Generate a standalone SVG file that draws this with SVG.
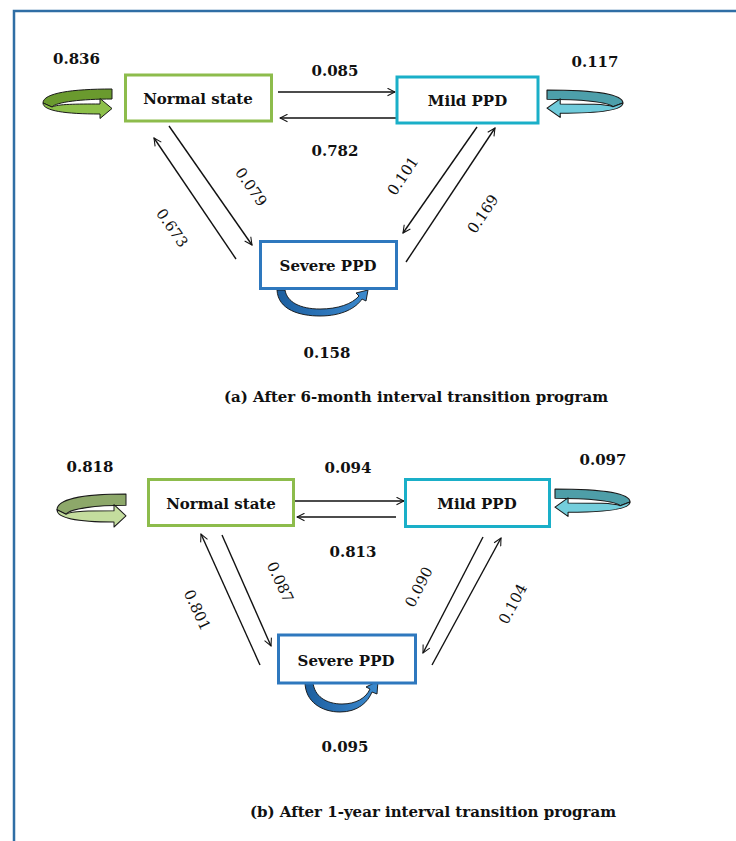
<svg xmlns="http://www.w3.org/2000/svg" xmlns:xlink="http://www.w3.org/1999/xlink" width="736" height="841" viewBox="0 0 736 841">
<style>
  .bx{fill:#fff;stroke-width:3}
  .g{stroke:#8DBC4C}
  .c{stroke:#1AAFC8}
  .b{stroke:#2E78BE}
  .lbl{font-family:"DejaVu Serif","Liberation Serif",serif;font-weight:bold;font-size:15px;fill:#111;text-anchor:middle}
  .num{font-family:"DejaVu Serif","Liberation Serif",serif;font-weight:bold;font-size:15px;fill:#111;text-anchor:middle}
  .rot{font-family:"DejaVu Serif","Liberation Serif",serif;font-size:15px;fill:#111;text-anchor:middle}
  .cap{font-family:"DejaVu Serif","Liberation Serif",serif;font-weight:bold;font-size:15px;fill:#111;text-anchor:middle}
  .ar{stroke:#111;stroke-width:1.4;fill:none;marker-end:url(#ah)}
  .loop{stroke:#1a1a1a;stroke-width:1;stroke-linejoin:round}
  .sl{fill:url(#bg);stroke:#111;stroke-width:0.9;stroke-linejoin:round}
</style>
<defs>
  <marker id="ah" viewBox="0 0 12 12" refX="11" refY="6" markerWidth="9" markerHeight="9" orient="auto" markerUnits="userSpaceOnUse">
    <path d="M1,1 L11,6 L1,11" fill="none" stroke="#111" stroke-width="1.4"/>
  </marker>
  <linearGradient id="bg" x1="0" y1="0" x2="1" y2="0">
    <stop offset="0" stop-color="#1C5E9E"/>
    <stop offset="0.5" stop-color="#2C74B8"/>
    <stop offset="1" stop-color="#3C8ACD"/>
  </linearGradient>
  <g id="loop">
    <path d="M0,0 C-40,0 -69,4 -69,14 L-60,18 C-56,13 -30,10 0,10 Z"/>
    <path fill="currentColor" d="M-69,14 C-69,22 -46,25 -12,25 L-12,29.5 L0,19.5 L-12,9.5 L-12,15 C-36,15 -54,15 -60,18 Z"/>
  </g>
</defs>

<!-- frame -->
<path d="M14,841 L14,11 L736,11" fill="none" stroke="#2F6EA5" stroke-width="2.5"/>

<!-- Panel (a) -->
<g id="connectors-a">
  <line class="ar" x1="278" y1="92" x2="395" y2="92"/>
  <line class="ar" x1="396" y1="118" x2="280" y2="118"/>
  <line class="ar" x1="169" y1="126" x2="252" y2="245"/>
  <line class="ar" x1="236" y1="259" x2="154" y2="138"/>
  <line class="ar" x1="477" y1="127" x2="403" y2="233"/>
  <line class="ar" x1="406" y1="262" x2="495" y2="128"/>
  <use href="#loop" class="loop" fill="#6A9A2E" color="#8DC04A" transform="translate(112,89)"/>
  <use href="#loop" class="loop" fill="#4D9FAA" color="#6FCBDB" transform="translate(547,90) scale(-1.1,0.93)"/>
  <path class="sl" d="M277,290 C278,310 300,316 320,316 C342,316 356,308 362,299 L366,301 L368,290 L356,293 L359,296 C352,304 338,309 320,309 C300,309 287,302 285,290 Z"/>
</g>
<g id="normal-a">
  <rect class="bx g" x="125.5" y="75" width="146" height="46"/>
  <text class="lbl" x="198" y="104">Normal state</text>
</g>
<g id="mild-a">
  <rect class="bx c" x="397" y="77" width="141" height="46"/>
  <text class="lbl" x="467.5" y="106">Mild PPD</text>
</g>
<g id="severe-a">
  <rect class="bx b" x="260.5" y="241.5" width="136" height="47"/>
  <text class="lbl" x="328" y="271">Severe PPD</text>
</g>
<g id="labels-a">
  <text class="num" x="76.5" y="64">0.836</text>
  <text class="num" x="335" y="76">0.085</text>
  <text class="num" x="595" y="67">0.117</text>
  <text class="num" x="335" y="156">0.782</text>
  <text class="num" x="327" y="358">0.158</text>
  <text class="rot" transform="translate(251,187) rotate(55)" y="5">0.079</text>
  <text class="rot" transform="translate(172,228) rotate(55)" y="5">0.673</text>
  <text class="rot" transform="translate(403,176) rotate(-56)" y="5">0.101</text>
  <text class="rot" transform="translate(483,214) rotate(-56)" y="5">0.169</text>
  <text class="cap" x="416" y="402">(a) After 6-month interval transition program</text>
</g>

<!-- Panel (b) -->
<g id="connectors-b">
  <line class="ar" x1="295" y1="501" x2="404" y2="501"/>
  <line class="ar" x1="396" y1="517" x2="297" y2="517"/>
  <line class="ar" x1="222" y1="535" x2="271" y2="646"/>
  <line class="ar" x1="260" y1="665" x2="201" y2="534"/>
  <line class="ar" x1="483" y1="537" x2="423" y2="653"/>
  <line class="ar" x1="432" y1="665" x2="501" y2="538"/>
  <use href="#loop" class="loop" fill="#8DA86A" color="#C4DD9E" transform="translate(126,494) scale(1,1.12)"/>
  <use href="#loop" class="loop" fill="#4E9EA8" color="#74CEDC" transform="translate(555,489) scale(-1.087,0.93)"/>
  <path class="sl" d="M305,682 C305,702 322,712 340,712 C358,712 368,702 372,692 L377,694 L378,681 L366,687 L370,689 C366,698 356,704 342,704 C326,704 314,696 313,682 Z"/>
</g>
<g id="normal-b">
  <rect class="bx g" x="148.5" y="479.5" width="145" height="46"/>
  <text class="lbl" x="221" y="509">Normal state</text>
</g>
<g id="mild-b">
  <rect class="bx c" x="405.5" y="479.5" width="144" height="47"/>
  <text class="lbl" x="477" y="509">Mild PPD</text>
</g>
<g id="severe-b">
  <rect class="bx b" x="278.5" y="635" width="137" height="48"/>
  <text class="lbl" x="346" y="666">Severe PPD</text>
</g>
<g id="labels-b">
  <text class="num" x="90" y="472">0.818</text>
  <text class="num" x="348" y="473">0.094</text>
  <text class="num" x="603" y="465">0.097</text>
  <text class="num" x="353" y="557">0.813</text>
  <text class="num" x="345" y="752">0.095</text>
  <text class="rot" transform="translate(280,582) rotate(65)" y="5">0.087</text>
  <text class="rot" transform="translate(197,610) rotate(65)" y="5">0.801</text>
  <text class="rot" transform="translate(419,587) rotate(-63)" y="5">0.090</text>
  <text class="rot" transform="translate(513,604) rotate(-62)" y="5">0.104</text>
  <text class="cap" x="433" y="817">(b) After 1-year interval transition program</text>
</g>
</svg>
